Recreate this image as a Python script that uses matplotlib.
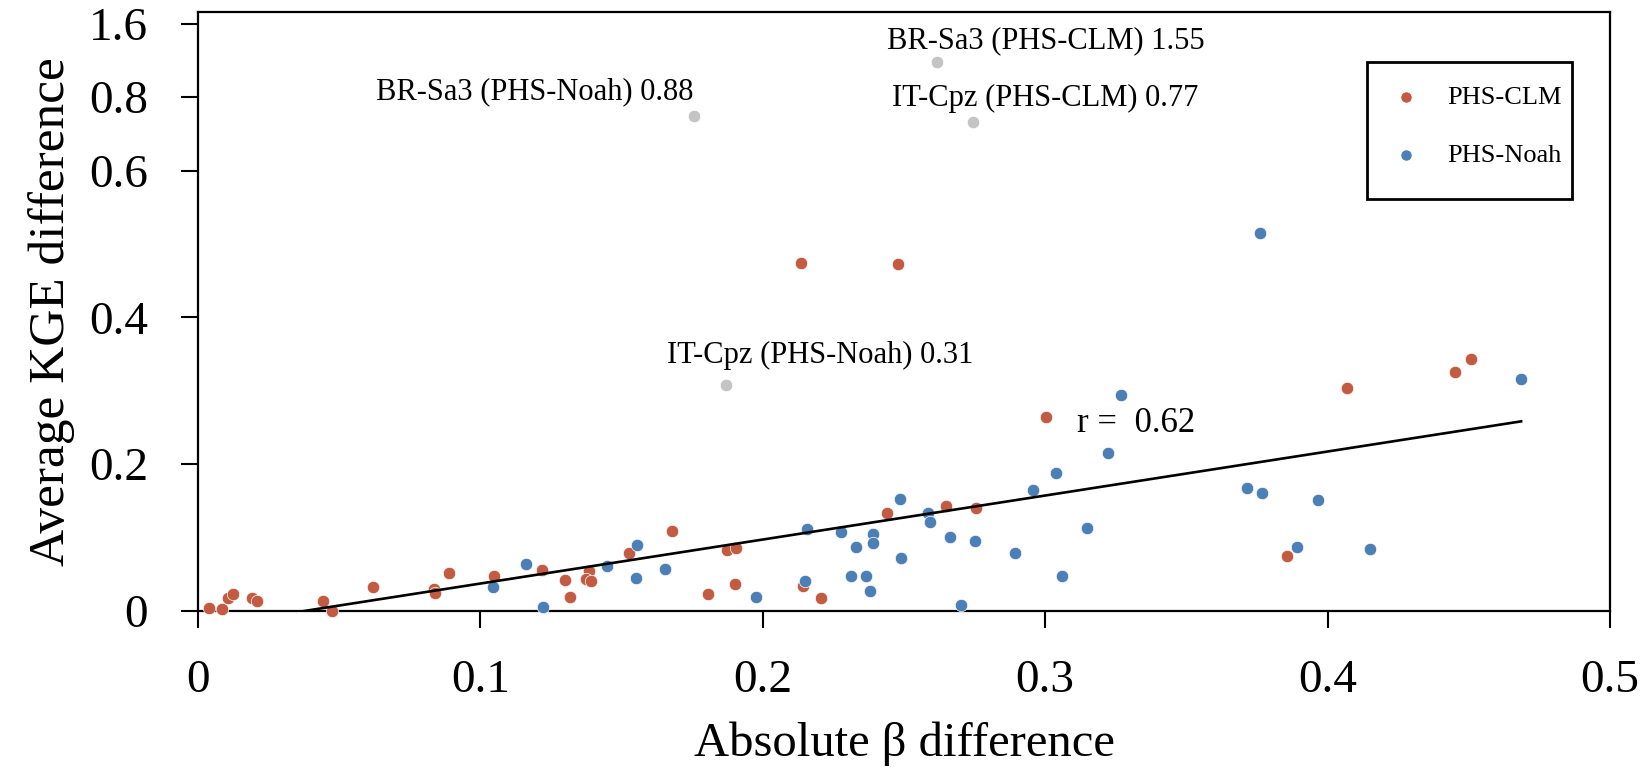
import numpy as np
import matplotlib
matplotlib.use('Agg')
import matplotlib.pyplot as plt
from matplotlib.patches import Rectangle

plt.rcParams['font.family'] = ['Liberation Serif', 'DejaVu Serif']

# PHS-CLM (red) points: absolute beta difference vs average KGE difference
clm_x = [0.004, 0.0084, 0.0105, 0.0125, 0.019, 0.021, 0.0444, 0.0473, 0.0621, 0.0835,
         0.084, 0.089, 0.1048, 0.1219, 0.130, 0.1317, 0.1386, 0.1375, 0.139, 0.1526,
         0.1677, 0.1807, 0.1872, 0.1905, 0.190, 0.2143, 0.2206, 0.2439, 0.2649, 0.2754,
         0.3003, 0.3855, 0.407, 0.4452, 0.4509, 0.2135, 0.248]
clm_y = [0.0045, 0.0027, 0.0173, 0.0227, 0.018, 0.013, 0.014, 0.000, 0.033, 0.0296,
         0.025, 0.0513, 0.0477, 0.0559, 0.0422, 0.0195, 0.055, 0.043, 0.041, 0.0786,
         0.109, 0.0232, 0.0831, 0.0863, 0.0372, 0.0336, 0.0173, 0.133, 0.143, 0.1403,
         0.2639, 0.0749, 0.3038, 0.3252, 0.3433, 0.474, 0.473]

# PHS-Noah (blue) points
noah_x = [0.1046, 0.1161, 0.1223, 0.1447, 0.1553, 0.155, 0.1655, 0.1976, 0.2149, 0.2158,
          0.2276, 0.2329, 0.2311, 0.2366, 0.238, 0.2391, 0.2391, 0.2485, 0.2488, 0.2586,
          0.2592, 0.2663, 0.2702, 0.2751, 0.2892, 0.2956, 0.3037, 0.3058, 0.3147, 0.3223,
          0.3267, 0.3716, 0.3769, 0.3966, 0.3893, 0.4151, 0.4685, 0.376]
noah_y = [0.0323, 0.064, 0.006, 0.0617, 0.0899, 0.0454, 0.0572, 0.0187, 0.0413, 0.112,
          0.107, 0.0868, 0.0481, 0.0481, 0.0277, 0.1045, 0.0922, 0.153, 0.0724, 0.133,
          0.1209, 0.1013, 0.0082, 0.095, 0.0786, 0.1649, 0.1876, 0.0473, 0.1127, 0.2149,
          0.2943, 0.1672, 0.1603, 0.1512, 0.0868, 0.0845, 0.3161, 0.515]

# outliers (grey), drawn on the compressed upper part of the axis
out_x = [0.1756, 0.2617, 0.2744, 0.187]
out_y = [0.674, 0.748, 0.666, 0.308]
out_labels = ['BR-Sa3 (PHS-Noah) 0.88', 'BR-Sa3 (PHS-CLM) 1.55',
              'IT-Cpz (PHS-CLM) 0.77', 'IT-Cpz (PHS-Noah) 0.31']
# label anchor (x, baseline y, alignment)
out_label_pos = [(0.1756, 0.6975, 'right'), (0.244, 0.767, 'left'),
                 (0.2457, 0.688, 'left'), (0.166, 0.338, 'left')]

ytick_pos = [0, 0.2, 0.4, 0.6, 0.7, 0.8]
ytick_labels = ['0', '0.2', '0.4', '0.6', '0.8', '1.6']
xticks = [0, 0.1, 0.2, 0.3, 0.4, 0.5]
xtick_labels = ['0', '0.1', '0.2', '0.3', '0.4', '0.5']

red = '#c25b42'
blue = '#4b7fb5'
grey = '#c4c4c4'

fig = plt.figure(figsize=(16.5, 7.67), dpi=100)
ax = fig.add_axes([0.12, 0.2034, 0.8558, 0.781])

ax.scatter(clm_x, clm_y, s=80, color=red, edgecolor='white', linewidth=0.5,
           zorder=3, clip_on=False, label='PHS-CLM')
ax.scatter(noah_x, noah_y, s=80, color=blue, edgecolor='white', linewidth=0.5,
           zorder=3, clip_on=False, label='PHS-Noah')
ax.scatter(out_x, out_y, s=80, color=grey, edgecolor='white', linewidth=0.5, zorder=3)

for lab, (tx, ty, ha) in zip(out_labels, out_label_pos):
    ax.text(tx, ty, lab, fontsize=22, ha=ha, va='baseline')

# regression line through all coloured points
all_x = np.array(clm_x + noah_x)
all_y = np.array(clm_y + noah_y)
slope, icpt = np.polyfit(all_x, all_y, 1)
xl = np.array([all_x.min(), all_x.max()])
ax.plot(xl, slope * xl + icpt, color='black', lw=1.9, zorder=4)
ax.text(0.3113, 0.244, 'r =  0.62', fontsize=25, ha='left', va='baseline')

ax.set_xlim(0, 0.5)
ax.set_ylim(0, 0.816)
ax.set_xticks(xticks)
ax.set_xticklabels(xtick_labels)
ax.set_yticks(ytick_pos)
ax.set_yticklabels(ytick_labels)
ax.tick_params(axis='both', labelsize=34, length=12, width=1.5, direction='out')
ax.tick_params(axis='x', pad=23)
ax.tick_params(axis='y', pad=24)
for sp in ax.spines.values():
    sp.set_linewidth(1.6)

ax.set_xlabel('Absolute β difference', fontsize=35, labelpad=14)
ax.set_ylabel('Average KGE difference', fontsize=37, labelpad=10)

leg = ax.legend(loc='upper left', bbox_to_anchor=(0.848, 0.8765), frameon=False,
                fontsize=19, handlelength=0.8, handletextpad=1.15, labelspacing=1.3,
                borderpad=0, borderaxespad=0, markerscale=0.9)
ax.add_patch(Rectangle((0.828, 0.688), 0.145, 0.2285, transform=ax.transAxes,
                       fill=False, lw=2, edgecolor='black', clip_on=False, zorder=5))

fig.savefig('out.png', dpi=100)
